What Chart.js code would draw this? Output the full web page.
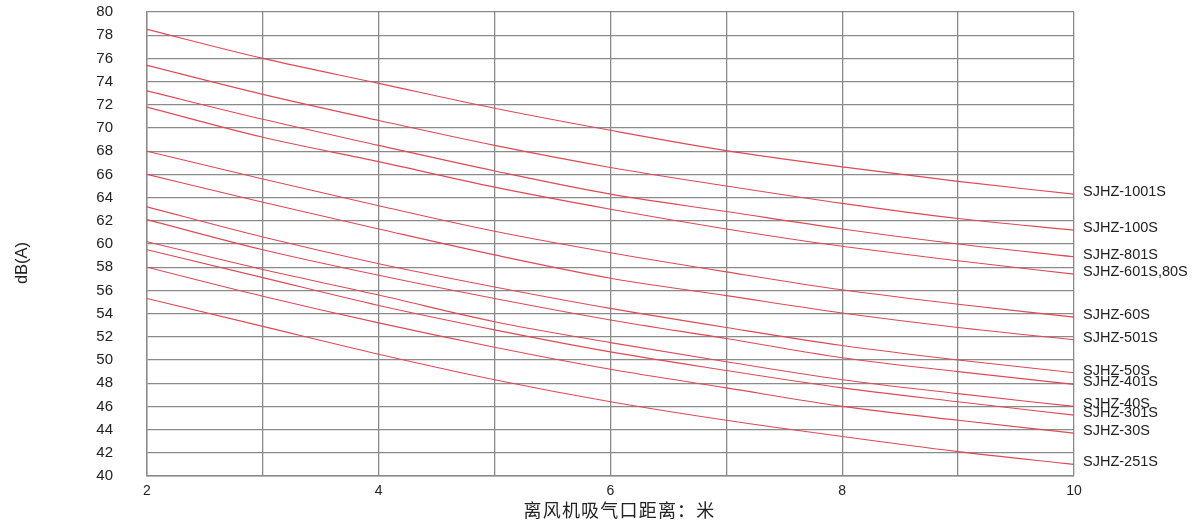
<!DOCTYPE html>
<html>
<head>
<meta charset="utf-8">
<script src="https://cdn.jsdelivr.net/npm/chart.js@4.4.0/dist/chart.umd.min.js"></script>
<style>
  html, body { margin: 0; padding: 0; background: #fff; }
  #wrap { width: 1200px; height: 525px; position: relative; }
</style>
</head>
<body>
<div id="wrap"><canvas id="c"></canvas></div>
<script>
const distances = [2, 3, 4, 5, 6, 7, 8, 9, 10];
const models = ['SJHZ-1001S', 'SJHZ-100S', 'SJHZ-801S', 'SJHZ-601S,80S', 'SJHZ-60S', 'SJHZ-501S',
                'SJHZ-50S', 'SJHZ-401S', 'SJHZ-40S', 'SJHZ-301S', 'SJHZ-30S', 'SJHZ-251S'];
const s1001 = [78.5, 76.0, 73.85, 71.7, 69.8, 68.05, 66.65, 65.4, 64.3];
const s100  = [75.4, 72.9, 70.65, 68.5, 66.6, 65.0, 63.5, 62.2, 61.2];
const s801  = [73.2, 70.75, 68.5, 66.3, 64.3, 62.8, 61.3, 60.0, 58.9];
const s601  = [71.8, 69.2, 67.1, 64.9, 63.0, 61.3, 59.8, 58.55, 57.4];
const s60   = [68.0, 65.6, 63.3, 61.1, 59.25, 57.6, 56.05, 54.8, 53.7];
const s501  = [66.0, 63.6, 61.3, 59.06, 57.05, 55.55, 54.05, 52.8, 51.75];
const s50   = [63.2, 60.6, 58.3, 56.3, 54.45, 52.8, 51.25, 50.0, 48.9];
const s401  = [62.1, 59.5, 57.3, 55.3, 53.45, 51.85, 50.2, 49.0, 47.9];
const s40   = [60.2, 57.8, 55.6, 53.3, 51.5, 49.85, 48.3, 47.1, 46.0];
const s301  = [59.5, 57.1, 54.7, 52.6, 50.7, 49.1, 47.6, 46.4, 45.25];
const s30   = [58.0, 55.5, 53.2, 51.1, 49.2, 47.6, 46.0, 44.8, 43.7];
const s251  = [55.3, 52.9, 50.5, 48.3, 46.4, 44.8, 43.4, 42.1, 41.0];
const seriesValues = [s1001, s100, s801, s601, s60, s501, s50, s401, s40, s301, s30, s251];

const xTitle = '离风机吸气口距离：米';
const yTitle = 'dB(A)';

const LATIN = '"Liberation Sans", Arial, sans-serif';
const CJK = '"Noto Sans CJK SC", "Noto Sans", sans-serif';
const GRID = '#8a8a8a';
const RED = '#dc4a55';

const datasets = seriesValues.map((vals, i) => ({
  label: models[i],
  data: distances.map((d, j) => ({ x: d, y: vals[j] })),
  borderColor: RED,
  backgroundColor: RED,
  borderWidth: 1.1,
  pointRadius: 0,
  cubicInterpolationMode: 'monotone',
  fill: false
}));

const annotations = {
  id: 'annotations',
  afterDatasetsDraw(chart) {
    const ctx = chart.ctx;
    const area = chart.chartArea;
    ctx.save();
    // series labels at the right end of each curve
    ctx.font = '14.5px ' + LATIN;
    ctx.fillStyle = '#222';
    ctx.textAlign = 'left';
    ctx.textBaseline = 'middle';
    chart.data.datasets.forEach((ds, i) => {
      const meta = chart.getDatasetMeta(i);
      const last = meta.data[meta.data.length - 1];
      ctx.fillText(ds.label, area.right + 9, last.y - 2);
    });
    // x-axis title
    ctx.textAlign = 'center';
    ctx.font = '18px ' + CJK;
    if ('letterSpacing' in ctx) ctx.letterSpacing = '1.2px';
    ctx.fillText(xTitle, (area.left + area.right) / 2 + 9, 510);
    if ('letterSpacing' in ctx) ctx.letterSpacing = '0px';
    // y-axis title
    ctx.translate(22, (area.top + area.bottom) / 2 + 19);
    ctx.rotate(-Math.PI / 2);
    ctx.font = '16.5px ' + LATIN;
    ctx.fillText(yTitle, 0, 0);
    ctx.restore();
  }
};

new Chart(document.getElementById('c'), {
  type: 'line',
  data: { datasets },
  plugins: [annotations],
  options: {
    responsive: true,
    maintainAspectRatio: false,
    animation: false,
    layout: { padding: { left: 0, right: 126, top: 12, bottom: 0 } },
    plugins: { legend: { display: false }, tooltip: { enabled: false } },
    scales: {
      x: {
        type: 'linear',
        min: 2, max: 10,
        afterFit(s) { s.height = 49; s.paddingLeft = 0; s.paddingRight = 0; },
        border: { display: true, color: GRID, width: 1.4 },
        grid: { color: GRID, lineWidth: 1.3, drawTicks: false },
        ticks: {
          stepSize: 1,
          padding: 7,
          color: '#222',
          font: { family: LATIN, size: 14 },
          maxRotation: 0,
          autoSkip: false,
          callback: v => (v % 2 === 0 ? String(v) : '')
        },
        title: { display: false }
      },
      y: {
        type: 'linear',
        min: 40, max: 80,
        afterFit(s) { s.width = 147; s.paddingTop = 0; s.paddingBottom = 0; },
        border: { display: true, color: GRID, width: 1.4 },
        grid: { color: GRID, lineWidth: 1.3, drawTicks: false },
        ticks: {
          stepSize: 2,
          padding: 34,
          color: '#222',
          font: { family: LATIN, size: 15 }
        },
        title: { display: false }
      }
    }
  }
});
</script>
</body>
</html>
